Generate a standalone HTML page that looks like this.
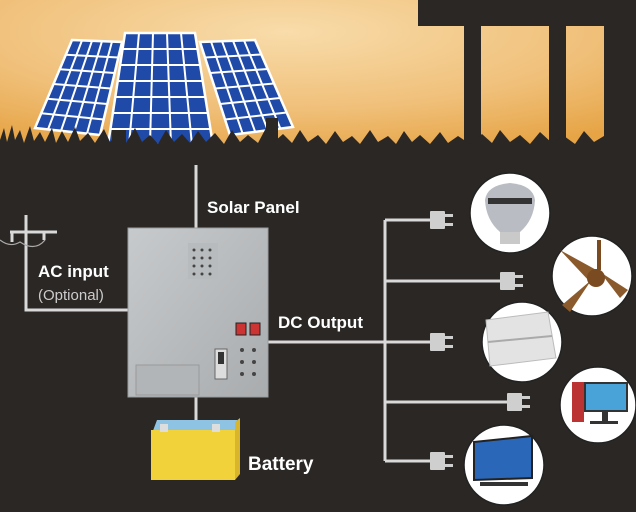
<!DOCTYPE html>
<html><head><meta charset="utf-8"><style>
html,body{margin:0;padding:0;width:636px;height:512px;overflow:hidden;background:#2a2725}
svg{display:block}
text{font-family:"Liberation Sans",sans-serif}
</style></head><body>
<svg width="636" height="512" viewBox="0 0 636 512" xmlns="http://www.w3.org/2000/svg">
<defs>
<radialGradient id="sky" cx="0.45" cy="0.2" r="0.8">
<stop offset="0" stop-color="#f8dcaa"/><stop offset="0.6" stop-color="#f0c07a"/><stop offset="1" stop-color="#e6a445"/>
</radialGradient>
<linearGradient id="box" x1="0" y1="0" x2="1" y2="1">
<stop offset="0" stop-color="#c7cacc"/><stop offset="1" stop-color="#a9acae"/>
</linearGradient>
</defs>
<rect width="636" height="512" fill="#2a2725"/>
<rect width="636" height="160" fill="url(#sky)"/>
<!-- building -->
<rect x="418" y="0" width="218" height="26" fill="#2a2725"/>
<rect x="464" y="0" width="17" height="160" fill="#2a2725"/>
<rect x="549" y="0" width="17" height="160" fill="#2a2725"/>
<rect x="604" y="0" width="32" height="160" fill="#2a2725"/>
<!-- panels -->
<g stroke="#fff" stroke-width="2.5" fill="#1f4aa8">
<polygon points="72,40 122,42 100,135 35,128"/>
<polygon points="200,42 255,40 293,127 230,135"/>
</g>
<g stroke="#fff" stroke-width="2" fill="none">
<path d="M82,40.4 L48,129.4 M92,40.8 L61,130.8 M102,41.2 L74,132.2 M112,41.6 L87,133.6"/>
<path d="M65.8,54.7 L118.3,57.5 M59.7,69.3 L114.7,73 M53.5,84 L111,88.5 M47.3,98.7 L107.3,104 M41.2,113.3 L103.7,119.5"/>
<path d="M211,41.6 L242.6,133.4 M222,41.2 L255.2,131.8 M233,40.8 L267.8,130.2 M244,40.4 L280.4,128.6"/>
<path d="M205,57.5 L261.3,54.5 M210,73 L267.7,69 M215,88.5 L274,83.5 M220,104 L280.3,98 M225,119.5 L286.7,112.5"/>
</g>
<polygon points="125,33 195,33 213,145 108,145" stroke="#fff" stroke-width="2.5" fill="#1f4aa8"/>
<g stroke="#fff" stroke-width="2" fill="none">
<path d="M139,33 L129,145 M153,33 L150,145 M167,33 L171,145 M181,33 L192,145"/>
<path d="M122.6,49 L197.6,49 M120.1,65 L200.1,65 M117.7,81 L202.7,81 M115.3,97 L205.3,97 M112.9,113 L207.9,113 M110.4,129 L210.4,129"/>
</g>
<rect x="112" y="130" width="14" height="20" fill="#2a2725"/>
<rect x="266" y="118" width="12" height="30" fill="#2a2725"/>
<!-- grass -->
<path d="M0,160 L0,140 L4,128 L7,142 L12,125 L15,140 L20,130 L24,143 L30,126 L34,141 L40,132 L45,142 L52,128 L56,143 L62,131 L68,142 L75,127 L80,141 L88,133 L95,143 L104,129 L110,142 L118,134 L126,143 L135,128 L142,142 L150,135 L158,144 L166,130 L174,142 L182,134 L190,143 L198,131 L206,142 L215,133 L224,144 L232,130 L240,142 L248,135 L258,143 L266,128 L274,142 L283,134 L292,143 L300,130 L308,142 L318,135 L326,144 L335,131 L343,142 L352,136 L360,144 L370,130 L378,142 L388,136 L396,144 L404,131 L412,142 L420,135 L430,144 L440,132 L448,143 L458,136 L470,144 L482,134 L492,143 L500,130 L510,142 L520,135 L530,144 L540,132 L552,143 L564,136 L575,144 L584,131 L594,142 L604,136 L636,144 L636,160 Z" fill="#2a2725"/>
<g stroke="#d9d9d9" stroke-width="3" fill="none">
<path d="M196,165 V228"/>
<path d="M128,310 H26 V215"/>
<path d="M10,232 H57"/>
<path d="M12,232 v10 M44,232 v8"/>
<path d="M196,397 V422"/>
<path d="M268,342 H385 M385,220 V461"/>
<path d="M385,220 H432 M385,281 H502 M385,342 H432 M385,402 H508 M385,461 H432"/>
</g>
<path d="M0,240 q10,8 20,2 q15,10 25,-2" stroke="#aaa" stroke-width="1.2" fill="none"/>
<!-- plugs -->
<g fill="#cfcfcf">
<g transform="translate(430,211)"><rect width="15" height="18" rx="1"/><rect x="15" y="3" width="8" height="3"/><rect x="15" y="12" width="8" height="3"/></g>
<g transform="translate(500,272)"><rect width="15" height="18" rx="1"/><rect x="15" y="3" width="8" height="3"/><rect x="15" y="12" width="8" height="3"/></g>
<g transform="translate(430,333)"><rect width="15" height="18" rx="1"/><rect x="15" y="3" width="8" height="3"/><rect x="15" y="12" width="8" height="3"/></g>
<g transform="translate(507,393)"><rect width="15" height="18" rx="1"/><rect x="15" y="3" width="8" height="3"/><rect x="15" y="12" width="8" height="3"/></g>
<g transform="translate(430,452)"><rect width="15" height="18" rx="1"/><rect x="15" y="3" width="8" height="3"/><rect x="15" y="12" width="8" height="3"/></g>
</g>
<!-- circles -->
<g fill="#fff" stroke="#222" stroke-width="1.5">
<circle cx="510" cy="213" r="40"/>
<circle cx="592" cy="276" r="40"/>
<circle cx="522" cy="342" r="40"/>
<circle cx="598" cy="405" r="38"/>
<circle cx="504" cy="465" r="40"/>
</g>
<!-- bulb -->
<path d="M485,200 Q487,185 510,183 Q533,185 535,200 Q534,220 520,232 L500,232 Q486,220 485,200Z" fill="#b9bcc2"/>
<rect x="488" y="198" width="44" height="6" fill="#333"/>
<rect x="500" y="232" width="20" height="12" fill="#c9c9c9"/>
<!-- fan -->
<path d="M560,250 L600,272 L590,282 Z" fill="#8a5a2c"/>
<path d="M600,272 L628,290 L620,298 Z" fill="#8a5a2c"/>
<path d="M590,282 L570,312 L562,305 L596,276 Z" fill="#8a5a2c"/>
<circle cx="596" cy="278" r="9" fill="#7a4a20"/>
<rect x="597" y="240" width="4" height="30" fill="#7a4a20"/>
<!-- AC -->
<path d="M486,320 L548,312 L556,358 L490,366 Z" fill="#e3e3e3" stroke="#bbb"/>
<path d="M488,342 L552,336" stroke="#aaa" stroke-width="2"/>
<!-- computer -->
<rect x="572" y="382" width="12" height="40" fill="#b33"/>
<rect x="585" y="383" width="42" height="28" fill="#4aa3d8" stroke="#333" stroke-width="2"/>
<rect x="602" y="411" width="6" height="10" fill="#333"/>
<rect x="590" y="421" width="28" height="3" fill="#333"/>
<!-- TV -->
<path d="M474,442 L532,436 L532,478 L474,480 Z" fill="#2a67b8" stroke="#222" stroke-width="2"/>
<rect x="480" y="482" width="48" height="4" fill="#333"/>
<!-- control box -->
<rect x="128" y="228" width="140" height="169" fill="url(#box)" stroke="#9a9d9f"/>
<rect x="188" y="243" width="30" height="36" fill="#b8bbbd"/>
<g fill="#444">
<circle cx="194" cy="250" r="1.5"/><circle cx="202" cy="250" r="1.5"/><circle cx="210" cy="250" r="1.5"/>
<circle cx="194" cy="258" r="1.5"/><circle cx="202" cy="258" r="1.5"/><circle cx="210" cy="258" r="1.5"/>
<circle cx="194" cy="266" r="1.5"/><circle cx="202" cy="266" r="1.5"/><circle cx="210" cy="266" r="1.5"/>
<circle cx="194" cy="274" r="1.5"/><circle cx="202" cy="274" r="1.5"/><circle cx="210" cy="274" r="1.5"/>
<circle cx="242" cy="350" r="2"/><circle cx="254" cy="350" r="2"/>
<circle cx="242" cy="362" r="2"/><circle cx="254" cy="362" r="2"/>
<circle cx="242" cy="374" r="2"/><circle cx="254" cy="374" r="2"/>
</g>
<rect x="236" y="323" width="10" height="12" fill="#c33" stroke="#222"/>
<rect x="250" y="323" width="10" height="12" fill="#c33" stroke="#222"/>
<rect x="215" y="349" width="12" height="30" fill="#ddd" stroke="#666"/>
<rect x="218" y="352" width="6" height="12" fill="#333"/>
<rect x="136" y="365" width="63" height="30" fill="#b2b5b7" stroke="#999"/>
<!-- battery -->
<polygon points="157,420 237,420 237,436 151,436" fill="#8fc3e4"/>
<rect x="151" y="430" width="84" height="50" fill="#f2d23a"/>
<polygon points="235,422 240,418 240,474 235,480" fill="#d8b52a"/>
<rect x="160" y="424" width="8" height="8" fill="#ddd"/>
<rect x="212" y="424" width="8" height="8" fill="#ddd"/>
<!-- labels -->
<g fill="#fff" font-weight="bold" font-size="17">
<text x="207" y="213">Solar Panel</text>
<text x="38" y="277">AC input</text>
<text x="278" y="328">DC Output</text>
<text x="248" y="470" font-size="19">Battery</text>
</g>
<text x="38" y="300" fill="#ccc" font-size="15">(Optional)</text>
</svg>
</body></html>
